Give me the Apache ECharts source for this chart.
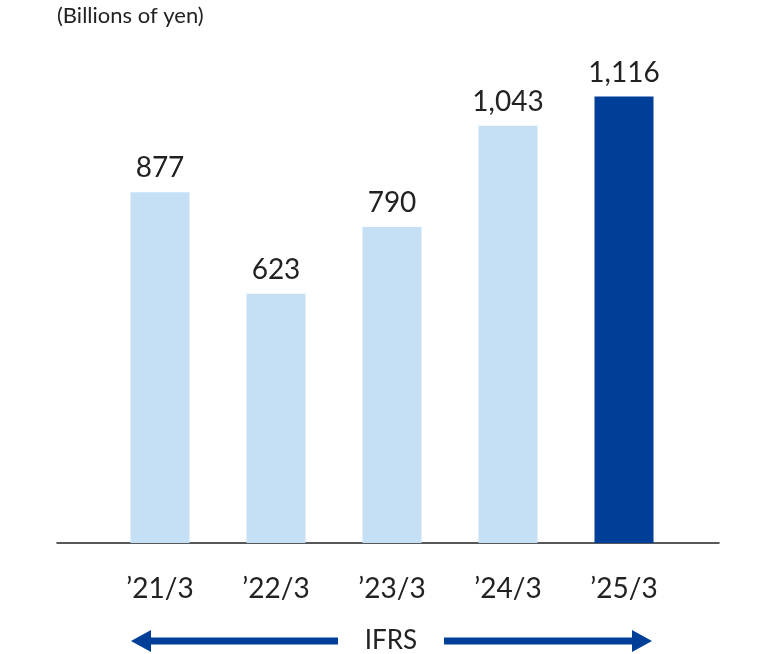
<!DOCTYPE html>
<html><head><meta charset="utf-8">
<script src="https://cdn.jsdelivr.net/npm/echarts@6/dist/echarts.min.js"></script>
<style>html,body{margin:0;padding:0;background:#fff}#c{width:776px;height:654px}</style>
</head><body><div id="c"></div>
<script>
var categories = ["\u201921/3", "\u201922/3", "\u201923/3", "\u201924/3", "\u201925/3"];
var values = [877, 623, 790, 1043, 1116];
var barColors = ["#c5dff4", "#c5dff4", "#c5dff4", "#c5dff4", "#003f98"];
var unitLabel = "(Billions of yen)";
var standardLabel = "IFRS";

var FONT = "Lato, 'Noto Sans', sans-serif";
var chart = echarts.init(document.getElementById('c'));
var arrowColor = "#003f98";
chart.setOption({
  animation: false,
  title: {text: unitLabel, left: 52, top: 0,
    textStyle: {fontFamily: FONT, fontWeight: 'normal', fontSize: 22, color: '#222'}},
  grid: [
    {left: 102, right: 94, top: 63, bottom: 111},
    {left: 57, right: 57, top: 63, bottom: 111}
  ],
  xAxis: [
    {type: 'category', data: categories, gridIndex: 0,
      axisLine: {show: false}, axisTick: {show: false},
      axisLabel: {margin: 32, fontFamily: FONT, fontSize: 28, color: '#222'}},
    {type: 'category', data: [''], gridIndex: 1,
      axisLine: {show: true, lineStyle: {color: '#222', width: 1.5}},
      axisTick: {show: false}, axisLabel: {show: false}}
  ],
  yAxis: [
    {type: 'value', min: 0, max: 1200, gridIndex: 0, show: false, splitLine: {show: false}},
    {type: 'value', min: 0, max: 1200, gridIndex: 1, show: false, splitLine: {show: false}}
  ],
  series: [{
    type: 'bar', xAxisIndex: 0, yAxisIndex: 0, barWidth: 59,
    data: values.map(function (v, i) { return {value: v, itemStyle: {color: barColors[i]}}; }),
    label: {show: true, position: 'top', distance: 10, fontFamily: FONT, fontSize: 28, color: '#222',
      formatter: function (p) { return p.value.toLocaleString('en-US'); }}
  }],
  graphic: [
    {type: 'rect', shape: {x: 148, y: 637.5, width: 190, height: 7}, style: {fill: arrowColor}},
    {type: 'polygon', shape: {points: [[131, 641], [151, 630], [151, 652]]}, style: {fill: arrowColor}},
    {type: 'rect', shape: {x: 444, y: 637.5, width: 191, height: 7}, style: {fill: arrowColor}},
    {type: 'polygon', shape: {points: [[652, 641], [632, 630], [632, 652]]}, style: {fill: arrowColor}},
    {type: 'text', x: 391, y: 641, style: {text: standardLabel, fontFamily: FONT, fontSize: 26, fill: '#222',
      align: 'center', verticalAlign: 'middle'}}
  ]
});
</script></body></html>
